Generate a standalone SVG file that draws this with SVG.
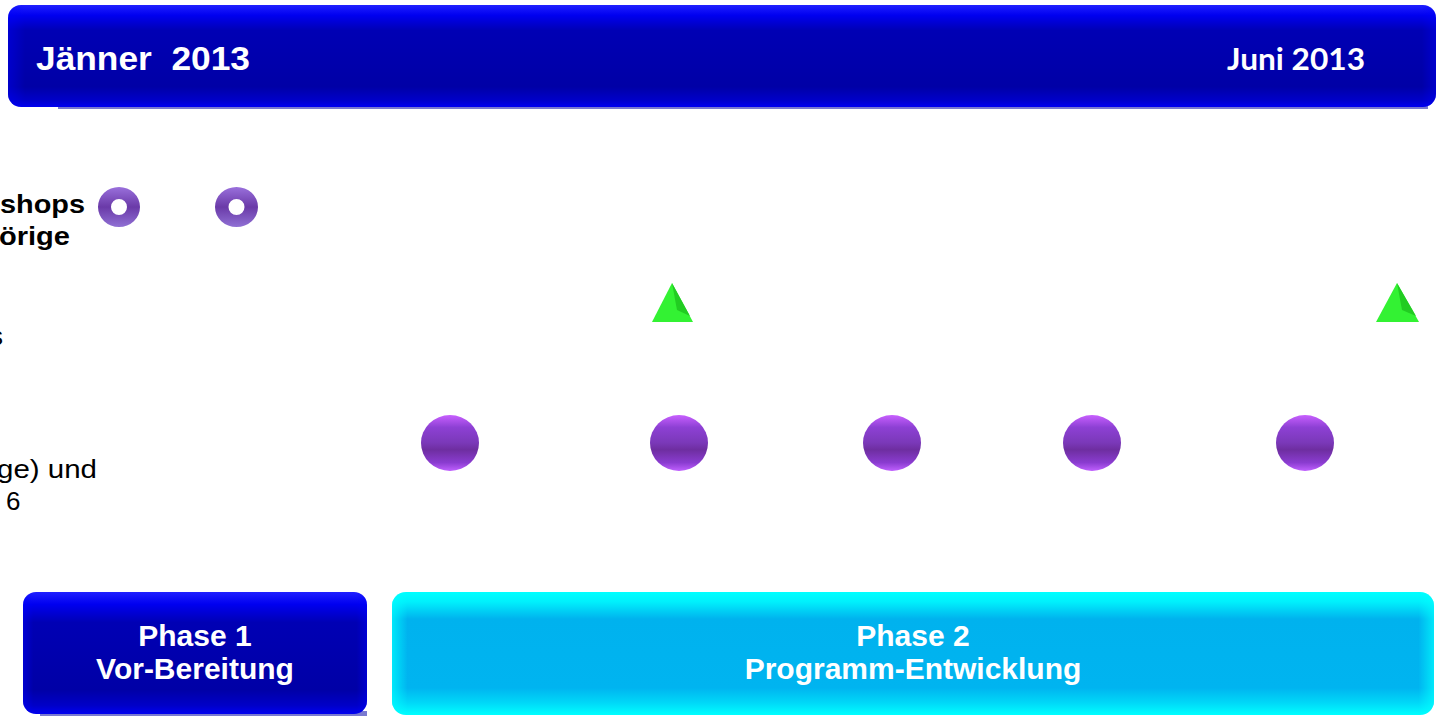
<svg xmlns="http://www.w3.org/2000/svg" width="1438" height="718" viewBox="0 0 1438 718">
<defs>
<linearGradient id="gBlue" x1="0" y1="0" x2="0" y2="1">
<stop offset="0" stop-color="#2020ff"/>
<stop offset="0.1" stop-color="#0000f0"/>
<stop offset="0.25" stop-color="#0000b4"/>
<stop offset="0.8" stop-color="#0000a6"/>
<stop offset="0.93" stop-color="#0000c8"/>
<stop offset="1" stop-color="#0000f0"/>
</linearGradient>
<linearGradient id="gBlueSide" x1="0" y1="0" x2="1" y2="0">
<stop offset="0" stop-color="#0000ff" stop-opacity="0.45"/>
<stop offset="0.03" stop-color="#0000ff" stop-opacity="0"/>
<stop offset="0.97" stop-color="#0000ff" stop-opacity="0"/>
<stop offset="1" stop-color="#0000ff" stop-opacity="0.45"/>
</linearGradient>
<linearGradient id="gBarSide" x1="0" y1="0" x2="1" y2="0">
<stop offset="0" stop-color="#0000ff" stop-opacity="0.4"/>
<stop offset="0.012" stop-color="#0000ff" stop-opacity="0"/>
<stop offset="0.99" stop-color="#0000ff" stop-opacity="0"/>
<stop offset="1" stop-color="#0000ff" stop-opacity="0.4"/>
</linearGradient>
<linearGradient id="gCyan" x1="0" y1="0" x2="0" y2="1">
<stop offset="0" stop-color="#00ffff"/>
<stop offset="0.08" stop-color="#00f0fc"/>
<stop offset="0.22" stop-color="#00b2ee"/>
<stop offset="0.78" stop-color="#00b4f0"/>
<stop offset="0.9" stop-color="#00d8f8"/>
<stop offset="1" stop-color="#00ffff"/>
</linearGradient>
<linearGradient id="gCyanSide" x1="0" y1="0" x2="1" y2="0">
<stop offset="0" stop-color="#00ffff" stop-opacity="0.7"/>
<stop offset="0.015" stop-color="#00ffff" stop-opacity="0"/>
<stop offset="0.985" stop-color="#00ffff" stop-opacity="0"/>
<stop offset="1" stop-color="#00ffff" stop-opacity="0.7"/>
</linearGradient>
<linearGradient id="gSphere" x1="0" y1="0" x2="0" y2="1">
<stop offset="0" stop-color="#c860ff"/>
<stop offset="0.22" stop-color="#8d40d4"/>
<stop offset="0.5" stop-color="#7a38b8"/>
<stop offset="0.62" stop-color="#6e2ea0"/>
<stop offset="0.85" stop-color="#8a3cd0"/>
<stop offset="1" stop-color="#c060ff"/>
</linearGradient>
<linearGradient id="gRing" x1="0" y1="0" x2="0" y2="1">
<stop offset="0" stop-color="#9a70dc"/>
<stop offset="0.5" stop-color="#6a3aa8"/>
<stop offset="1" stop-color="#9070d4"/>
</linearGradient>
<style>
.hdr{font-family:"Liberation Sans",Arial,sans-serif;font-weight:bold;fill:#ffffff;white-space:pre}
.lbl{font-family:"Liberation Sans",Arial,sans-serif;fill:#000000;font-size:26px}
.ph{font-family:"Liberation Sans",Arial,sans-serif;font-weight:bold;fill:#ffffff;font-size:30px;text-anchor:middle}
.tri{fill:#33f233}
.facet{fill:#22cc22}
.sph{fill:url(#gSphere)}
.ring{fill:url(#gRing);fill-rule:evenodd}
</style>
</defs>
<rect width="1438" height="718" fill="#ffffff"/>

<g id="timeline-bar">
<rect x="58" y="104" width="1370" height="5" fill="#7a7ad0"/>
<rect x="8" y="5" width="1428" height="102" rx="13" fill="url(#gBlue)"/>
<rect x="8" y="5" width="1428" height="102" rx="13" fill="url(#gBarSide)"/>
<text class="hdr" x="36" y="70" font-size="34" xml:space="preserve" textLength="214" lengthAdjust="spacingAndGlyphs">Jänner  2013</text>
<text x="1227" y="70" font-family="Lato,'Open Sans',sans-serif" font-weight="bold" font-size="30" fill="#ffffff" textLength="138" lengthAdjust="spacingAndGlyphs">Juni 2013</text>
</g>

<g id="label-workshops">
<text class="lbl" font-weight="bold" x="0" y="213" textLength="85" lengthAdjust="spacingAndGlyphs">shops</text>
<text class="lbl" font-weight="bold" x="-1" y="245" textLength="71" lengthAdjust="spacingAndGlyphs">örige</text>
</g>
<g id="label-row2">
<text class="lbl" x="3" y="345" text-anchor="end">s</text>
</g>
<g id="label-row3">
<text class="lbl" x="-3" y="478" textLength="100" lengthAdjust="spacingAndGlyphs">ge) und</text>
<text class="lbl" x="6" y="510">6</text>
</g>

<g id="ring-1"><path class="ring" d="M98,207 a21,20 0 1,0 42,0 a21,20 0 1,0 -42,0 Z M111,207 a8,8 0 1,0 16,0 a8,8 0 1,0 -16,0 Z"/></g>
<g id="ring-2"><path class="ring" d="M215,207 a21.5,20 0 1,0 43,0 a21.5,20 0 1,0 -43,0 Z M228.5,207 a8,8 0 1,0 16,0 a8,8 0 1,0 -16,0 Z"/></g>

<g id="triangle-1"><polygon class="tri" points="672,283 693,322 652,322"/><polygon class="facet" points="672,283 690,316 677,310"/></g>
<g id="triangle-2"><polygon class="tri" points="1397,283 1419,322 1376,322"/><polygon class="facet" points="1397,283 1416,316 1402,310"/></g>

<g id="sphere-1"><ellipse class="sph" cx="450" cy="443" rx="29" ry="28"/></g>
<g id="sphere-2"><ellipse class="sph" cx="679" cy="443" rx="29" ry="28"/></g>
<g id="sphere-3"><ellipse class="sph" cx="892" cy="443" rx="29" ry="28"/></g>
<g id="sphere-4"><ellipse class="sph" cx="1092" cy="443" rx="29" ry="28"/></g>
<g id="sphere-5"><ellipse class="sph" cx="1305" cy="443" rx="29" ry="28"/></g>

<g id="phase-1">
<rect x="40" y="711" width="327" height="5" fill="#7a7ad0"/>
<rect x="23" y="592" width="344" height="122" rx="13" fill="url(#gBlue)"/>
<rect x="23" y="592" width="344" height="122" rx="13" fill="url(#gBlueSide)"/>
<text class="ph" x="195" y="646">Phase 1</text>
<text class="ph" x="195" y="679">Vor-Bereitung</text>
</g>

<g id="phase-2">
<rect x="392" y="592" width="1042" height="123" rx="14" fill="url(#gCyan)"/>
<rect x="392" y="592" width="1042" height="123" rx="14" fill="url(#gCyanSide)"/>
<text class="ph" x="913" y="646">Phase 2</text>
<text class="ph" x="913" y="679">Programm-Entwicklung</text>
</g>

<g id="connectors"/>
</svg>
